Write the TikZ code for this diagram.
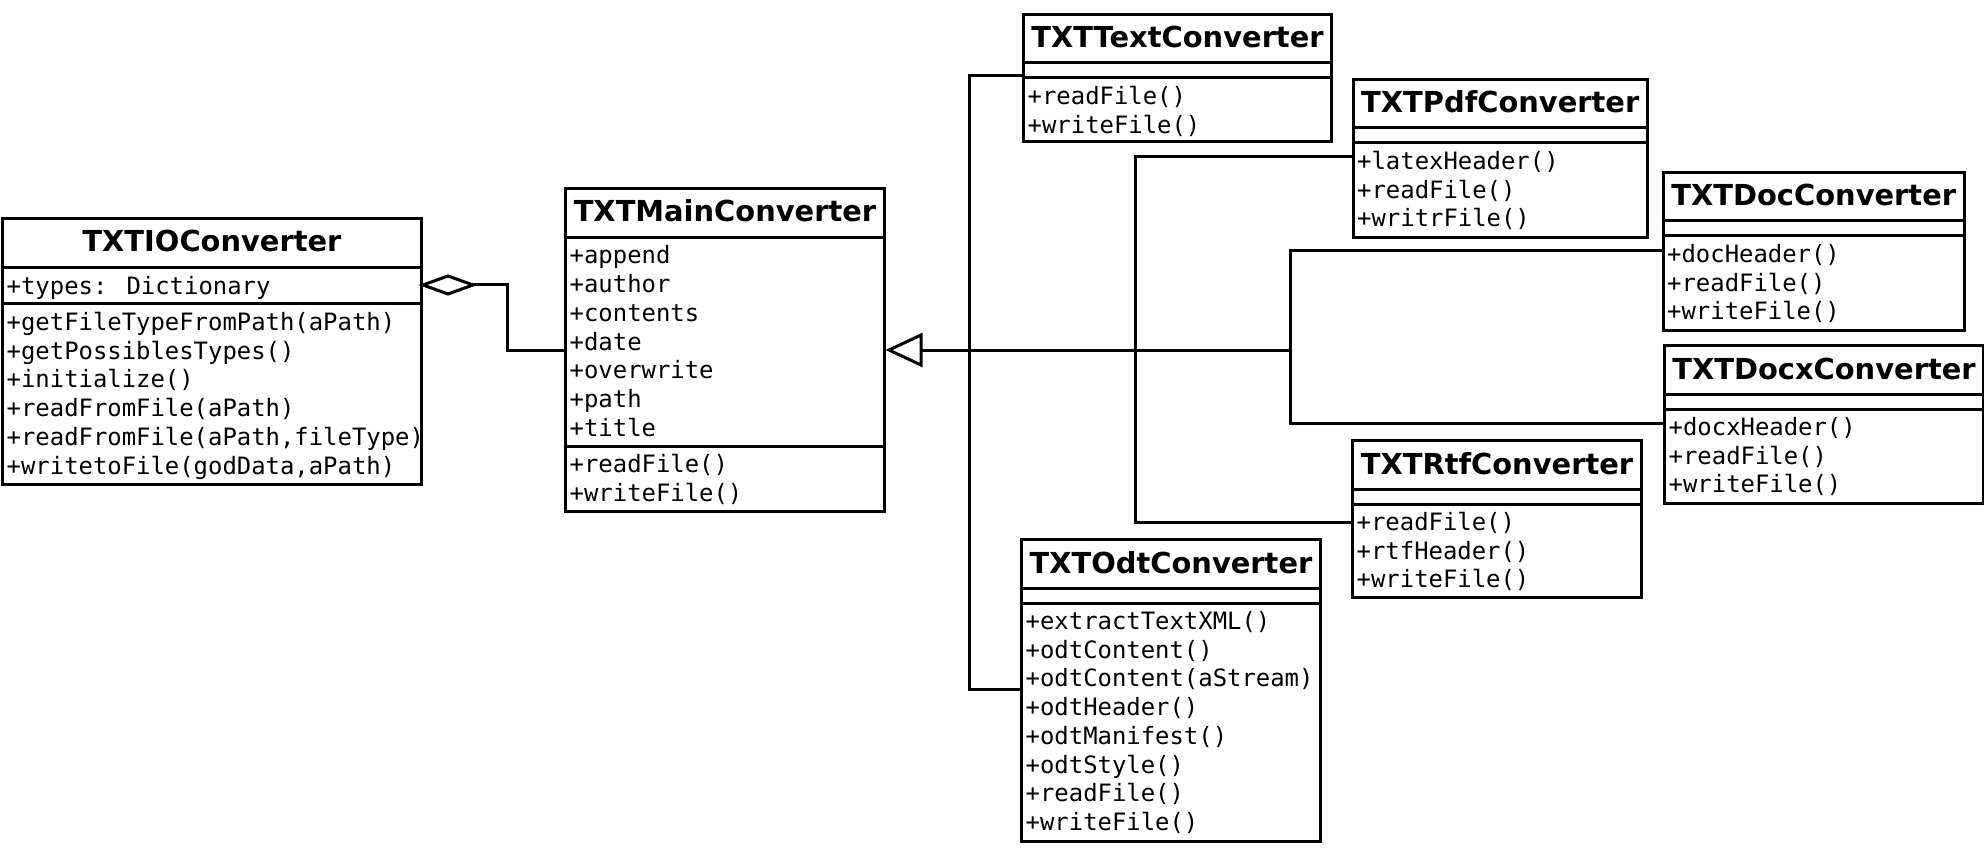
\documentclass[tikz,border=0pt]{standalone}
\usepackage{fontspec}
\usetikzlibrary{calc}
\newfontfamily\umltitlefont{DejaVu Sans}
\newfontfamily\umlmemfont{DejaVu Sans Mono}
\tikzset{
  classbox/.style={draw, line width=3pt, inner sep=0pt, anchor=north west, fill=white},
  titletext/.style={font=\umltitlefont\bfseries\fontsize{28.9}{34}\selectfont, anchor=base, inner sep=0pt},
  memtext/.style={font=\umlmemfont\fontsize{23.9}{28.7}\selectfont, anchor=base west, inner sep=0pt},
  sepline/.style={line width=3pt},
  conn/.style={line width=3pt},
}
\newcommand{\umlbox}[7]{%
  \node[classbox, minimum width=#4pt, minimum height=#5pt] (#1) at (#2,#3) {};
  \node[titletext] (#1-t) at ($(#1.north)+(0,35)$) {#6};
  \draw[sepline] ($(#1.north west)+(0,50)$) -- ($(#1.north east)+(0,50)$);
  \draw[sepline] ($(#1.north west)+(0,65)$) -- ($(#1.north east)+(0,65)$);
  \foreach \m [count=\i] in {#7}
    \node[memtext] (#1-m\i) at ($(#1.north west)+(5.5,{65+26.5+(\i-1)*28.7})$) {\m};
}
\begin{document}
\begin{tikzpicture}[x=1pt, y=-1pt]
\useasboundingbox (0,0) rectangle (1984,850);

% TXTIOConverter
\node[classbox, minimum width=419pt, minimum height=266pt] (io) at (1,217) {};
\node[titletext] (io-t) at ($(io.north)+(0,35)$) {TXTIOConverter};
\draw[sepline] ($(io.north west)+(0,51)$) -- ($(io.north east)+(0,51)$);
\draw[sepline] ($(io.north west)+(0,87)$) -- ($(io.north east)+(0,87)$);
\node[memtext] (io-a1) at ($(io.north west)+(5.5,77.5)$) {+types: Dictionary};
\foreach \m [count=\i] in {+getFileTypeFromPath(aPath), +getPossiblesTypes(), +initialize(), +readFromFile(aPath), {+readFromFile(aPath,fileType)}, {+writetoFile(godData,aPath)}}
  \node[memtext] (io-m\i) at ($(io.north west)+(5.5,{87+26.5+(\i-1)*28.7})$) {\m};

% TXTMainConverter
\node[classbox, minimum width=319pt, minimum height=323pt] (main) at (564,187) {};
\node[titletext] (main-t) at ($(main.north)+(0,35)$) {TXTMainConverter};
\draw[sepline] ($(main.north west)+(0,50.5)$) -- ($(main.north east)+(0,50.5)$);
\draw[sepline] ($(main.north west)+(0,259)$) -- ($(main.north east)+(0,259)$);
\foreach \m [count=\i] in {+append, +author, +contents, +date, +overwrite, +path, +title}
  \node[memtext] (main-a\i) at ($(main.north west)+(5.5,{50.5+26.5+(\i-1)*28.7})$) {\m};
\foreach \m [count=\i] in {+readFile(), +writeFile()}
  \node[memtext] (main-m\i) at ($(main.north west)+(5.5,{259+26.5+(\i-1)*28.7})$) {\m};

% Subclasses
\umlbox{txt}{1022}{13}{308}{127}{TXTTextConverter}{+readFile(), +writeFile()}
\umlbox{pdf}{1351.5}{78}{294.5}{158}{TXTPdfConverter}{+latexHeader(), +readFile(), +writrFile()}
\umlbox{doc}{1661.5}{171}{301.5}{158}{TXTDocConverter}{+docHeader(), +readFile(), +writeFile()}
\umlbox{docx}{1663}{344}{319}{158}{TXTDocxConverter}{+docxHeader(), +readFile(), +writeFile()}
\umlbox{rtf}{1351}{439}{289}{157}{TXTRtfConverter}{+readFile(), +rtfHeader(), +writeFile()}
\umlbox{odt}{1020}{538}{299}{302}{TXTOdtConverter}{+extractTextXML(), +odtContent(), +odtContent(aStream), +odtHeader(), +odtManifest(), +odtStyle(), +readFile(), +writeFile()}

% Aggregation
\draw[conn, fill=white] ($(io.north east)+(0,68)$) -- ++(25,-9) -- ++(25,9) -- ++(-25,9) -- cycle;
\draw[conn] ($(io.north east)+(50,68)$) -- ++(34,0) |- (main.west);

% Generalization
\coordinate (j1) at ($(main.east)+(83,0)$);
\coordinate (j2) at ($(main.east)+(249,0)$);
\coordinate (j3) at ($(main.east)+(404,0)$);
\draw[conn] ($(main.east)+(35,0)$) -- (j3);
\draw[conn, fill=white] ($(main.east)+(3,0)$) -- ($(main.east)+(35,-15)$) -- ($(main.east)+(35,15)$) -- cycle;
\draw[conn] ($(txt.north west)+(0,63)$) -| (j1) |- ($(odt.north west)+(0,151)$);
\draw[conn] ($(pdf.north west)+(0,79)$) -| (j2) |- ($(rtf.north west)+(0,83)$);
\draw[conn] ($(doc.north west)+(0,79.5)$) -| (j3) |- ($(docx.north west)+(0,79)$);
\end{tikzpicture}
\end{document}
